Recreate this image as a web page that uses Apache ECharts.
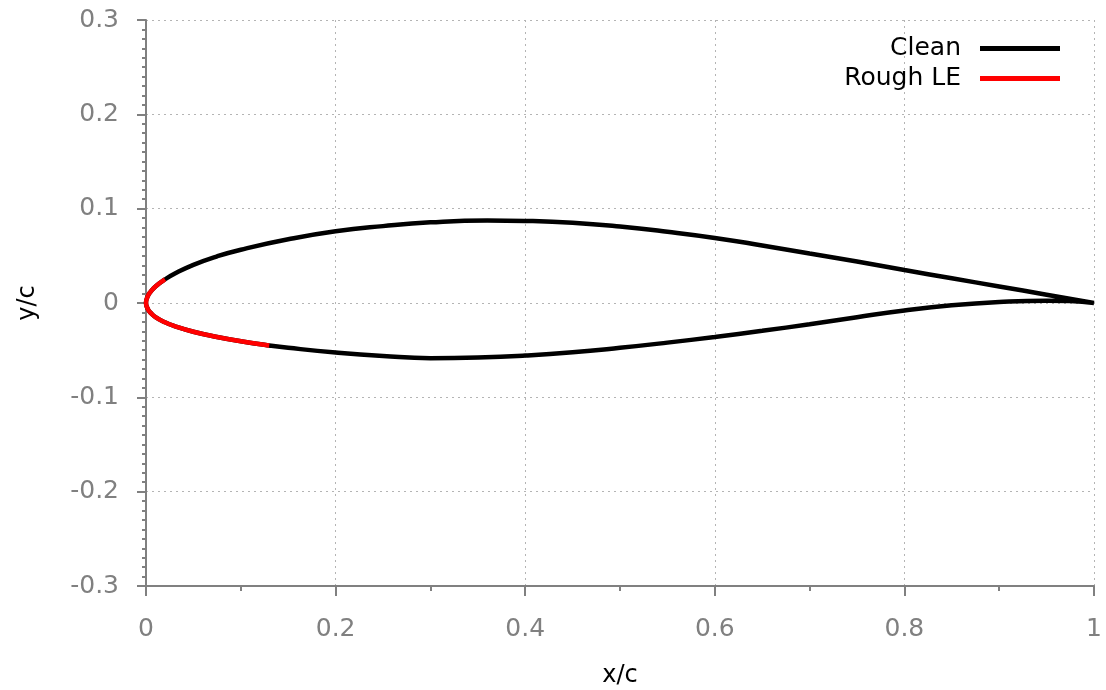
<!DOCTYPE html>
<html>
<head>
<meta charset="utf-8">
<script src="https://cdn.jsdelivr.net/npm/echarts@6/dist/echarts.min.js"></script>
<style>html,body{margin:0;padding:0;background:#fff}#c{width:1106px;height:690px}</style>
</head>
<body>
<div id="c"></div>
<script>
// Airfoil coordinates (x/c, y/c)
const upperX = [1.0, 0.95, 0.9, 0.85, 0.8, 0.75, 0.7, 0.65, 0.6, 0.55, 0.5, 0.45, 0.4, 0.36, 0.3, 0.25, 0.2, 0.15, 0.1, 0.075, 0.05, 0.03, 0.02, 0.01, 0.005, 0.002, 0.0];
const upperY = [0.0, 0.0088, 0.0175, 0.0262, 0.035, 0.044, 0.0525, 0.061, 0.069, 0.0755, 0.081, 0.085, 0.087, 0.0875, 0.0855, 0.0815, 0.076, 0.0675, 0.0565, 0.0495, 0.0405, 0.031, 0.025, 0.0175, 0.012, 0.0075, 0.0];
const lowerX = [0.0, 0.002, 0.005, 0.01, 0.02, 0.03, 0.05, 0.075, 0.1, 0.13, 0.15, 0.2, 0.25, 0.3, 0.35, 0.4, 0.45, 0.5, 0.55, 0.6, 0.65, 0.7, 0.75, 0.8, 0.85, 0.9, 0.95, 0.975, 1.0];
const lowerY = [0.0, -0.0065, -0.0105, -0.015, -0.0205, -0.0245, -0.0305, -0.036, -0.0405, -0.045, -0.0475, -0.0525, -0.0562, -0.0585, -0.0578, -0.0557, -0.0523, -0.0475, -0.042, -0.036, -0.0295, -0.0225, -0.015, -0.008, -0.0025, 0.001, 0.0025, 0.002, 0.0];
// Rough leading-edge region (lower x=0.13 -> LE -> upper x=0.02)
const roughX = [0.13, 0.1, 0.075, 0.05, 0.03, 0.02, 0.01, 0.005, 0.002, 0.0, 0.002, 0.005, 0.01, 0.02];
const roughY = [-0.045, -0.0405, -0.036, -0.0305, -0.0245, -0.0205, -0.015, -0.0105, -0.0065, 0.0, 0.0075, 0.012, 0.0175, 0.025];
const seriesNames = ['Clean', 'Rough LE'];
const xTicks = [0, 0.2, 0.4, 0.6, 0.8, 1];
const yTicks = [-0.3, -0.2, -0.1, 0, 0.1, 0.2, 0.3];

const cleanData = upperX.map((x, i) => [x, upperY[i]]).concat(lowerX.slice(1).map((x, i) => [x, lowerY[i + 1]]));
const roughData = roughX.map((x, i) => [x, roughY[i]]);

const gray = '#808080';
const font = 'DejaVu Sans';
const fmt = v => { const r = parseFloat(v.toFixed(1)); return r === 0 ? '0' : String(r); };

const legendCommon = {right: 46, orient: 'vertical', align: 'right', itemWidth: 80, itemHeight: 5, icon: 'rect', padding: 0,
  textStyle: {fontFamily: font, fontSize: 25, color: '#000', padding: [0, 14, 0, 0]}, selectedMode: false};

const chart = echarts.init(document.getElementById('c'), null, {renderer: 'canvas'});
chart.setOption({
  animation: false,
  backgroundColor: '#fff',
  grid: {left: 146, right: 12, top: 20, bottom: 104, containLabel: false, outerBoundsMode: 'none'},
  legend: [
    Object.assign({data: [seriesNames[0]], top: 36}, legendCommon),
    Object.assign({data: [seriesNames[1]], top: 66}, legendCommon)
  ],
  xAxis: {
    type: 'value', min: xTicks[0], max: xTicks[xTicks.length - 1], interval: 0.2,
    name: 'x/c', nameLocation: 'middle', nameGap: 78,
    nameTextStyle: {fontFamily: font, fontSize: 24, color: '#000'},
    axisLine: {show: true, onZero: false, lineStyle: {color: gray, width: 2}},
    axisTick: {show: true, inside: false, length: 10, lineStyle: {color: gray, width: 2}},
    minorTick: {show: true, splitNumber: 2, length: 5, lineStyle: {color: gray, width: 2}},
    axisLabel: {fontFamily: font, fontSize: 25, color: gray, margin: 31, formatter: fmt},
    splitLine: {show: true, lineStyle: {color: '#b4b4b4', width: 1, type: [2, 4]}}
  },
  yAxis: {
    type: 'value', min: yTicks[0], max: yTicks[yTicks.length - 1], interval: 0.1,
    name: 'y/c', nameLocation: 'middle', nameGap: 106, nameRotate: 90,
    nameTextStyle: {fontFamily: font, fontSize: 24, color: '#000'},
    axisLine: {show: true, onZero: false, lineStyle: {color: gray, width: 2}},
    axisTick: {show: true, inside: false, length: 9, lineStyle: {color: gray, width: 2}},
    minorTick: {show: true, splitNumber: 10, length: 4, lineStyle: {color: gray, width: 2}},
    axisLabel: {fontFamily: font, fontSize: 25, color: gray, margin: 27, formatter: fmt},
    splitLine: {show: true, lineStyle: {color: '#b4b4b4', width: 1, type: [2, 4]}}
  },
  series: [
    {name: seriesNames[0], type: 'line', data: cleanData, smooth: true, showSymbol: false, symbol: 'none',
     lineStyle: {color: '#000', width: 4.5}, itemStyle: {color: '#000'}, z: 2},
    {name: seriesNames[1], type: 'line', data: roughData, smooth: true, showSymbol: false, symbol: 'none',
     lineStyle: {color: '#ff0000', width: 4.5}, itemStyle: {color: '#ff0000'}, z: 3}
  ]
});
</script>
</body>
</html>
